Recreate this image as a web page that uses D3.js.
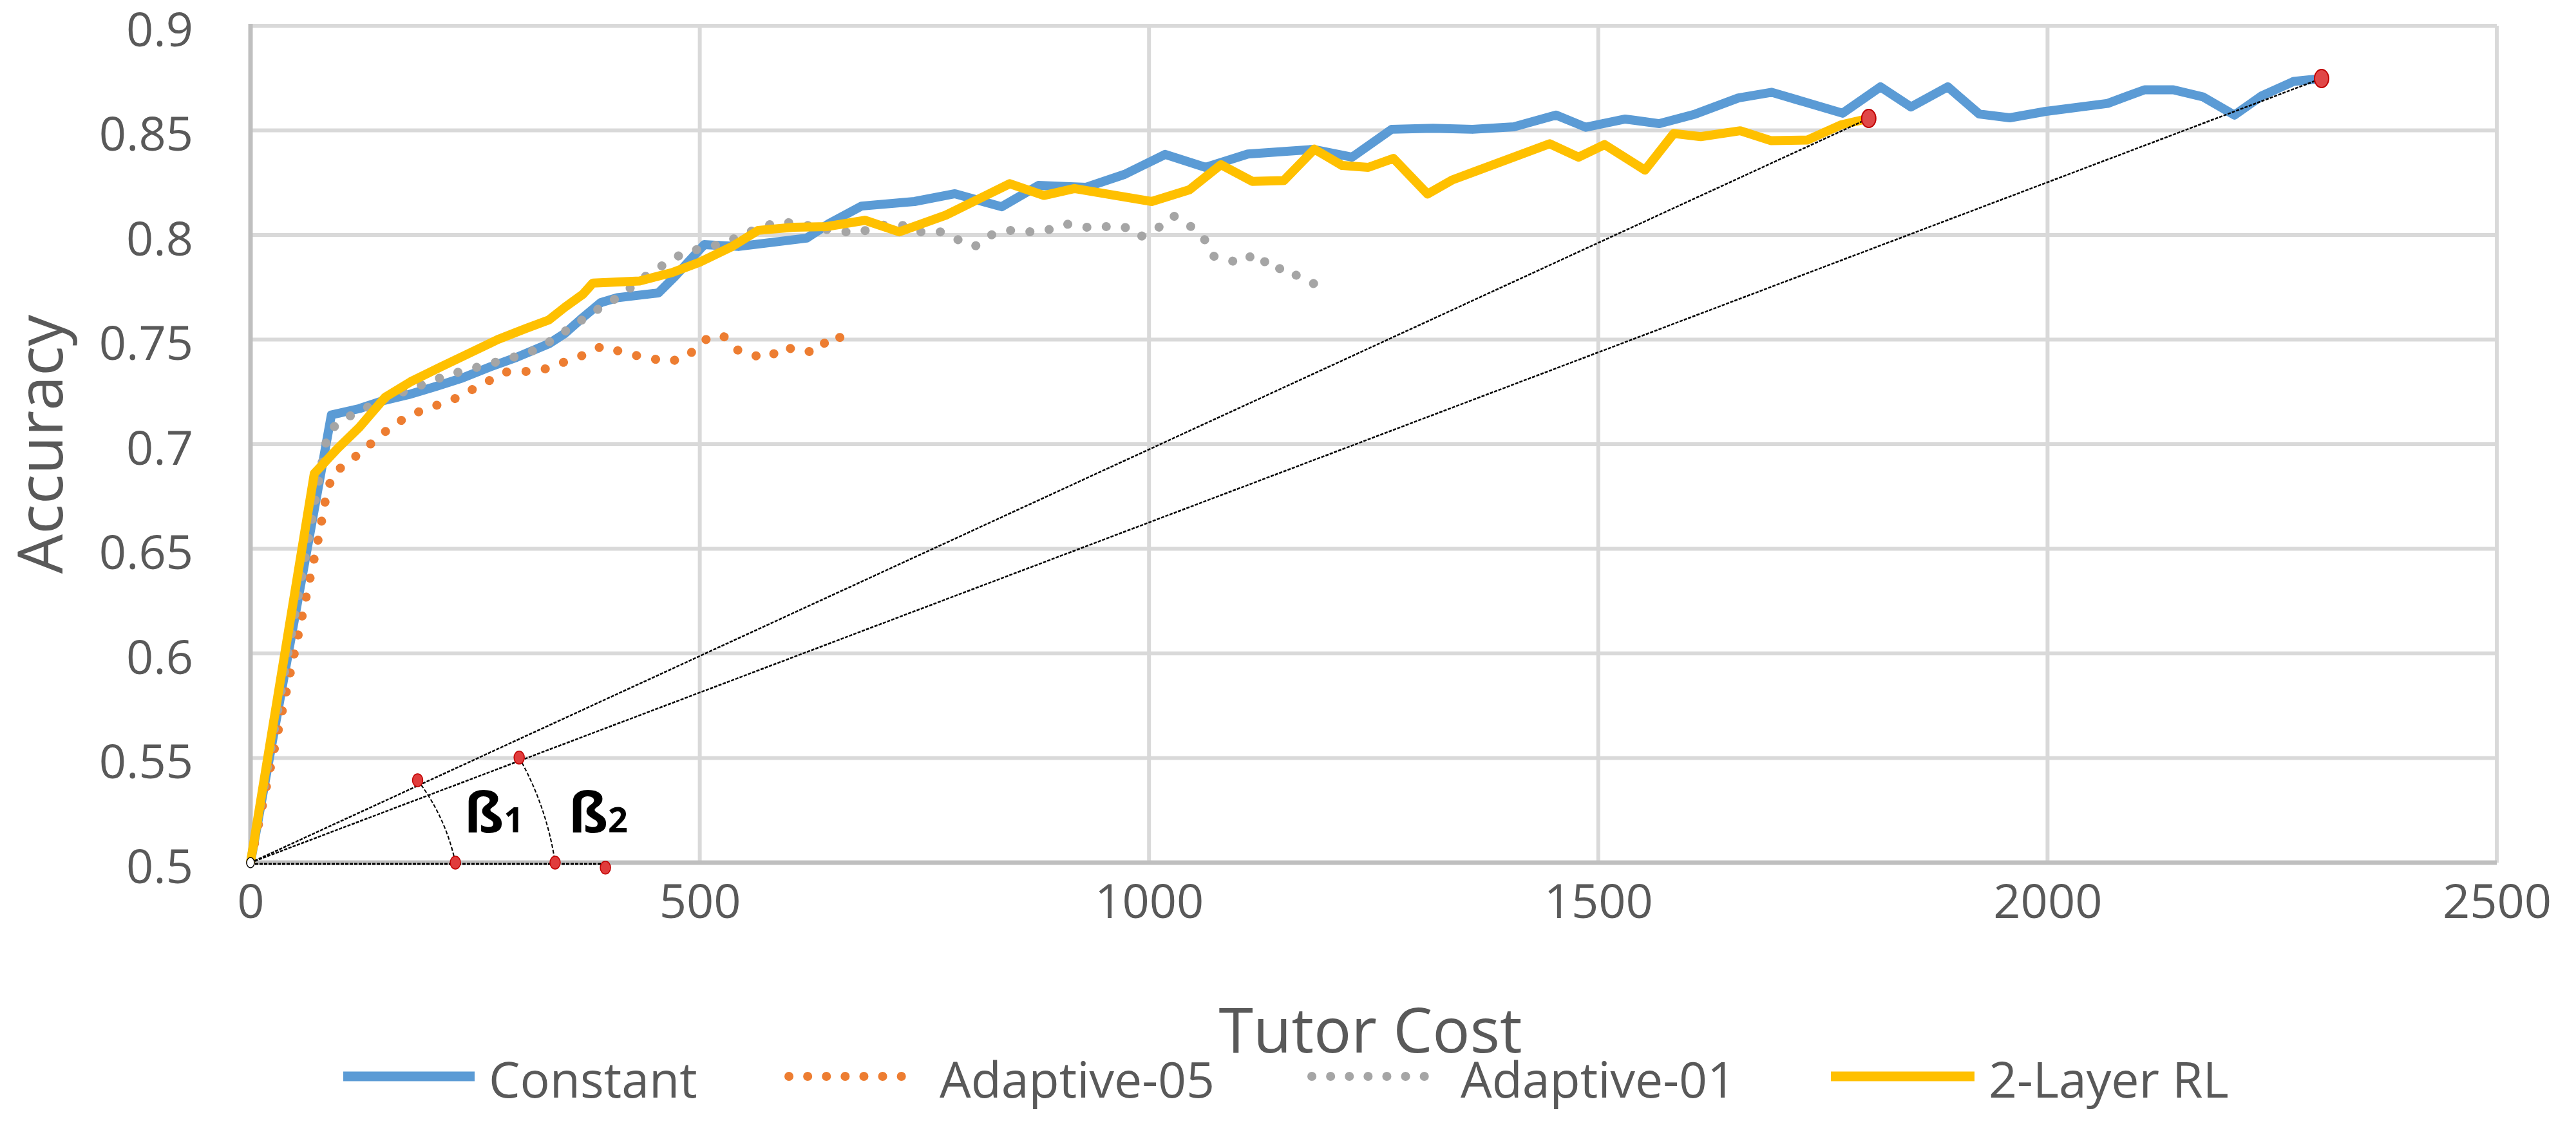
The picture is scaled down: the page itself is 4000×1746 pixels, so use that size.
<!DOCTYPE html>
<html>
<head>
<meta charset="utf-8">
<script src="https://cdn.jsdelivr.net/npm/d3@7.9.0/dist/d3.min.js"></script>
<style>
  body { margin: 0; background: #fff; }
  svg { display: block; }
  text { font-family: "Open Sans", "Noto Sans", sans-serif; fill: #595959; }
</style>
</head>
<body>
<svg id="chart" width="4000" height="1746"></svg>
<script>
// values: [tutor cost, accuracy]
const constant = [
  [0, 0.5], [90, 0.714], [121, 0.717], [146, 0.7206], [176, 0.7237], [207, 0.7277],
  [236, 0.7317], [267, 0.737], [296, 0.7415], [332, 0.748], [350, 0.753], [370, 0.7606],
  [390, 0.7677], [408, 0.770], [454, 0.7723], [472, 0.780], [505, 0.7954], [543, 0.7945],
  [619, 0.7985], [644, 0.8055], [680, 0.8138], [739, 0.816], [784, 0.8197], [836, 0.8135],
  [877, 0.8237], [930, 0.8228], [973, 0.829], [1018, 0.8385], [1063, 0.8323], [1110, 0.8387],
  [1183, 0.8409], [1226, 0.8372], [1270, 0.8505], [1316, 0.851], [1360, 0.8505], [1406, 0.8517],
  [1453, 0.8573], [1486, 0.8515], [1530, 0.8554], [1568, 0.8532], [1608, 0.8578], [1656, 0.8655],
  [1693, 0.8682], [1772, 0.8582], [1814, 0.8708], [1848, 0.8612], [1889, 0.8708], [1924, 0.8578],
  [1958, 0.856], [1997, 0.859], [2067, 0.8629], [2108, 0.8694], [2140, 0.8694], [2173, 0.866],
  [2208, 0.8573], [2238, 0.8664], [2274, 0.8734], [2305, 0.8748]
];
const adaptive05 = [
  [0, 0.5], [77, 0.658], [81, 0.668], [85, 0.677], [92, 0.686], [110, 0.6917], [128, 0.698],
  [144, 0.704], [162, 0.710], [181, 0.7145], [203, 0.718], [224, 0.721], [244, 0.7255],
  [264, 0.730], [284, 0.7345], [307, 0.7348], [328, 0.736], [350, 0.7394], [370, 0.7425],
  [391, 0.7468], [409, 0.7446], [428, 0.7425], [446, 0.741], [465, 0.7394], [485, 0.7415],
  [500, 0.7477], [512, 0.7517], [527, 0.7514], [540, 0.7452], [555, 0.744], [568, 0.741],
  [580, 0.7425], [594, 0.7468], [612, 0.744], [633, 0.7446], [644, 0.7517], [660, 0.7508]
];
const adaptive01 = [
  [0, 0.5], [82, 0.697], [87, 0.706], [102, 0.7117], [123, 0.716], [143, 0.7206], [205, 0.7308],
  [226, 0.7338], [248, 0.7363], [271, 0.739], [292, 0.7415], [314, 0.7446], [333, 0.749],
  [353, 0.7548], [371, 0.760], [389, 0.7652], [408, 0.770], [427, 0.776], [445, 0.782],
  [464, 0.7868], [483, 0.7917], [505, 0.7938], [526, 0.796], [548, 0.800], [569, 0.804],
  [590, 0.8062], [610, 0.8055], [636, 0.803], [657, 0.8015], [680, 0.8015], [701, 0.8046],
  [722, 0.8052], [744, 0.8015], [768, 0.8015], [787, 0.7978], [806, 0.7945], [824, 0.800],
  [844, 0.8022], [867, 0.8015], [888, 0.8025], [910, 0.8052], [930, 0.8037], [953, 0.804],
  [972, 0.804], [990, 0.7991], [1009, 0.803], [1027, 0.8092], [1045, 0.8046], [1061, 0.7985],
  [1071, 0.790], [1088, 0.7877], [1106, 0.787], [1117, 0.7914], [1130, 0.7868], [1137, 0.783],
  [1152, 0.7846], [1168, 0.7794], [1186, 0.7763], [1195, 0.779]
];
const twoLayerRL = [
  [0, 0.5], [71, 0.686], [97, 0.698], [121, 0.708], [150, 0.7225], [178, 0.7298], [212, 0.737],
  [246, 0.744], [275, 0.750], [307, 0.7554], [332, 0.7594], [350, 0.7655], [370, 0.7717],
  [381, 0.777], [433, 0.778], [469, 0.782], [500, 0.787], [536, 0.7945], [565, 0.8022],
  [605, 0.8037], [641, 0.804], [684, 0.807], [722, 0.8015], [774, 0.8095], [845, 0.8245],
  [883, 0.8189], [917, 0.8222], [1003, 0.816], [1045, 0.8216], [1080, 0.8336], [1115, 0.8256],
  [1150, 0.826], [1184, 0.841], [1215, 0.8332], [1244, 0.8323], [1272, 0.8366], [1310, 0.8196],
  [1338, 0.8264], [1446, 0.8436], [1478, 0.8372], [1507, 0.8432], [1552, 0.831], [1584, 0.8485],
  [1614, 0.847], [1658, 0.8498], [1692, 0.8451], [1733, 0.8454], [1770, 0.8526], [1801, 0.8557]
];

const seriesNames = ['Constant', 'Adaptive-05', 'Adaptive-01', '2-Layer RL'];
const seriesData = [constant, adaptive05, adaptive01, twoLayerRL];
const seriesColors = ['#5B9BD5', '#ED7D31', '#A5A5A5', '#FFC000'];
const seriesDotted = [false, true, true, false];

const xTicks = [0, 500, 1000, 1500, 2000, 2500];
const yTicks = [0.5, 0.55, 0.6, 0.65, 0.7, 0.75, 0.8, 0.85, 0.9];

// annotation: origin, the two end points and the angle markers
const origin = [0, 0.5];
const endPoints = [[1801, 0.8557], [2305, 0.8748]];
const arcTops = [[186, 0.5394], [299, 0.5502]];
const arcBottoms = [[228, 0.5], [339, 0.5]];
const baseEnd = [395, 0.4976];
const betaLabels = ['1', '2'];
const betaPos = [[238, 0.5145], [354, 0.5145]];

const svg = d3.select('#chart');
const x = d3.scaleLinear().domain([0, 2500]).range([389, 3877]);
const y = d3.scaleLinear().domain([0.5, 0.9]).range([1340, 40]);

// grid
svg.append('g').selectAll('line').data(yTicks.slice(1)).join('line')
  .attr('x1', x(0)).attr('x2', x(2500))
  .attr('y1', d => y(d)).attr('y2', d => y(d))
  .attr('stroke', '#D9D9D9').attr('stroke-width', 6);
svg.append('g').selectAll('line').data(xTicks.slice(1)).join('line')
  .attr('x1', d => x(d)).attr('x2', d => x(d))
  .attr('y1', y(0.9)).attr('y2', y(0.5))
  .attr('stroke', '#D9D9D9').attr('stroke-width', 6);

// axes lines
svg.append('line').attr('x1', x(0)).attr('x2', x(0)).attr('y1', y(0.9) - 3).attr('y2', y(0.5) + 3)
  .attr('stroke', '#BFBFBF').attr('stroke-width', 7);
svg.append('line').attr('x1', x(0)).attr('x2', x(2500)).attr('y1', y(0.5)).attr('y2', y(0.5))
  .attr('stroke', '#BFBFBF').attr('stroke-width', 7);

// tick labels
const yAxis = d3.axisLeft(y).tickValues(yTicks).tickSize(0).tickPadding(89)
  .tickFormat(d => String(+d.toFixed(2)));
const gy = svg.append('g').attr('transform', `translate(${x(0)},0)`).call(yAxis);
gy.select('.domain').remove();
gy.selectAll('text').attr('font-size', 74).attr('fill', '#595959')
  .attr('font-family', '"Open Sans", sans-serif').attr('dy', '0.42em');

const xAxis = d3.axisBottom(x).tickValues(xTicks).tickSize(0).tickPadding(86)
  .tickFormat(d3.format('d'));
const gx = svg.append('g').attr('transform', `translate(0,${y(0.5)})`).call(xAxis);
gx.select('.domain').remove();
gx.selectAll('text').attr('font-size', 74).attr('fill', '#595959')
  .attr('font-family', '"Open Sans", sans-serif').attr('dy', '0');

// axis titles
svg.append('text').attr('transform', `translate(97,${(y(0.5) + y(0.9)) / 2 + 0}) rotate(-90)`)
  .attr('text-anchor', 'middle').attr('font-size', 97).text('Accuracy');
svg.append('text').attr('x', 2128).attr('y', 1635)
  .attr('text-anchor', 'middle').attr('font-size', 97).text('Tutor Cost');

// series
const line = d3.line().x(d => x(d[0])).y(d => y(d[1]));
seriesData.forEach((data, i) => {
  const p = svg.append('path')
    .attr('d', line(data))
    .attr('fill', 'none')
    .attr('stroke', seriesColors[i])
    .attr('stroke-linejoin', 'round');
  if (seriesDotted[i]) {
    p.attr('stroke-width', 14).attr('stroke-linecap', 'round').attr('stroke-dasharray', '0.1 30');
  } else {
    p.attr('stroke-width', 14);
  }
});

// annotation lines
const ann = svg.append('g');
endPoints.forEach(pt => {
  ann.append('line')
    .attr('x1', x(origin[0])).attr('y1', y(origin[1]))
    .attr('x2', x(pt[0])).attr('y2', y(pt[1]))
    .attr('stroke', '#000').attr('stroke-width', 2.5).attr('stroke-dasharray', '5 2');
});
ann.append('line')
  .attr('x1', x(origin[0])).attr('y1', y(0.4994))
  .attr('x2', x(baseEnd[0])).attr('y2', y(0.4994))
  .attr('stroke', '#000').attr('stroke-width', 3).attr('stroke-dasharray', '5 2');

arcTops.forEach((top, i) => {
  const bot = arcBottoms[i];
  const x1 = x(top[0]), y1 = y(top[1]), x2 = x(bot[0]), y2 = y(bot[1]);
  const r = Math.hypot(x2 - x(origin[0]), y2 - y(origin[1]));
  ann.append('path')
    .attr('d', `M${x1},${y1} A${r},${r} 0 0 1 ${x2},${y2}`)
    .attr('fill', 'none').attr('stroke', '#000').attr('stroke-width', 2)
    .attr('stroke-dasharray', '6 3');
});

// beta labels
betaPos.forEach((pt, i) => {
  const t = ann.append('text')
    .attr('x', x(pt[0])).attr('y', y(pt[1]))
    .attr('font-family', '"Liberation Sans", Arial, sans-serif')
    .attr('font-weight', 'bold').attr('font-size', 86)
    .style('fill', '#000');
  t.append('tspan').text('ß');
  t.append('tspan').attr('font-size', 54).text(betaLabels[i]);
});

// red markers
const smallDots = arcTops.concat(arcBottoms, [baseEnd]);
ann.selectAll('ellipse.small').data(smallDots).join('ellipse')
  .attr('class', 'small')
  .attr('cx', d => x(d[0])).attr('cy', d => y(d[1]))
  .attr('rx', 8).attr('ry', 10)
  .attr('fill', '#E03C3C').attr('stroke', '#C00000').attr('stroke-width', 1.5);
ann.selectAll('ellipse.end').data(endPoints).join('ellipse')
  .attr('class', 'end')
  .attr('cx', d => x(d[0])).attr('cy', d => y(d[1]))
  .attr('rx', 11).attr('ry', 14)
  .attr('fill', '#E04848').attr('stroke', '#C00000').attr('stroke-width', 2);
ann.append('ellipse')
  .attr('cx', x(origin[0])).attr('cy', y(origin[1]))
  .attr('rx', 6).attr('ry', 8)
  .attr('fill', '#fff').attr('stroke', '#000').attr('stroke-width', 1.5);

// legend
const legendX = [533, 1218, 2030, 2843];
const legendLen = [204, 205, 202, 223];
const legend = svg.append('g');
seriesNames.forEach((name, i) => {
  const l = legend.append('line')
    .attr('x1', legendX[i]).attr('x2', legendX[i] + legendLen[i])
    .attr('y1', 1672).attr('y2', 1672)
    .attr('stroke', seriesColors[i]).attr('stroke-width', 15);
  if (seriesDotted[i]) {
    l.attr('stroke-width', 14).attr('stroke-linecap', 'round')
      .attr('stroke-dasharray', '0.1 29').attr('x1', legendX[i] + 7).attr('x2', legendX[i] + legendLen[i]);
  }
  legend.append('text')
    .attr('x', legendX[i] + legendLen[i] + (seriesDotted[i] ? 36 : 22))
    .attr('y', 1705)
    .attr('font-size', 77)
    .text(name);
});
</script>
</body>
</html>
